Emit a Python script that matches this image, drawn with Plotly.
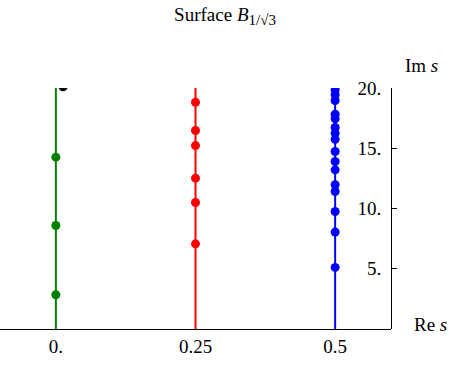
import plotly.graph_objects as go

# Data
green_re = 0.0
green_im = [2.84, 8.59, 14.26]
red_re = 0.25
red_im = [7.07, 10.50, 12.52, 15.22, 16.47, 18.82]
blue_re = 0.5
blue_im = [5.11, 8.04, 9.75, 11.41, 11.97, 13.21, 13.90, 14.73, 15.75,
           16.25, 16.72, 17.44, 17.83, 18.96, 19.43, 19.84]
black_pt = (0.013, 20.1)
im_span = [0, 20]
x_ticks = [0, 0.25, 0.5]
x_ticklabels = ["0.", "0.25", "0.5"]
y_ticks = [5, 10, 15, 20]
y_ticklabels = ["5.", "10.", "15.", "20."]

FONT = "Liberation Serif"
FS = 19
fig = go.Figure()

for re, ims, col in [(green_re, green_im, "rgb(0,128,0)"),
                     (red_re, red_im, "rgb(255,0,0)"),
                     (blue_re, blue_im, "rgb(0,0,255)")]:
    fig.add_trace(go.Scatter(x=[re, re], y=im_span, mode="lines",
                             line=dict(color=col, width=2), hoverinfo="skip"))
    fig.add_trace(go.Scatter(x=[re] * len(ims), y=ims, mode="markers",
                             marker=dict(color=col, size=9)))

fig.add_trace(go.Scatter(x=[black_pt[0]], y=[black_pt[1]], mode="markers",
                         marker=dict(color="black", size=9)))

fig.update_layout(
    width=450, height=369,
    margin=dict(l=0, r=59, t=88, b=40),
    paper_bgcolor="white", plot_bgcolor="white",
    showlegend=False,
    font=dict(family=FONT, size=FS, color="black"),
    title=dict(text="Surface <i>B</i><sub><span style='font-size:15px'>1/√3</span></sub>",
               x=0.5, xanchor="center",
               y=0.962, yanchor="middle", font=dict(family=FONT, size=19)),
    xaxis=dict(range=[-0.1, 0.6], tickvals=x_ticks, ticktext=x_ticklabels,
               showline=True, linecolor="black", linewidth=1, showgrid=False,
               zeroline=False, ticks="", tickfont=dict(size=FS)),
    yaxis=dict(range=[0, 20], anchor="free", position=1.0, side="left",
               tickvals=y_ticks, ticktext=y_ticklabels,
               ticks="inside", ticklen=5, ticklabelstandoff=6,
               tickcolor="black", showline=True, linecolor="black", linewidth=1,
               showgrid=False, zeroline=False, tickfont=dict(size=FS)),
    annotations=[
        dict(text="Im <i>s</i>", xref="paper", yref="paper", x=1.077, y=1.095,
             xanchor="center", yanchor="middle", showarrow=False,
             font=dict(family=FONT, size=FS)),
        dict(text="Re <i>s</i>", xref="paper", yref="paper", x=1.10, y=0.018,
             xanchor="center", yanchor="middle", showarrow=False,
             font=dict(family=FONT, size=FS)),
    ],
)

fig.write_html("out.html")
